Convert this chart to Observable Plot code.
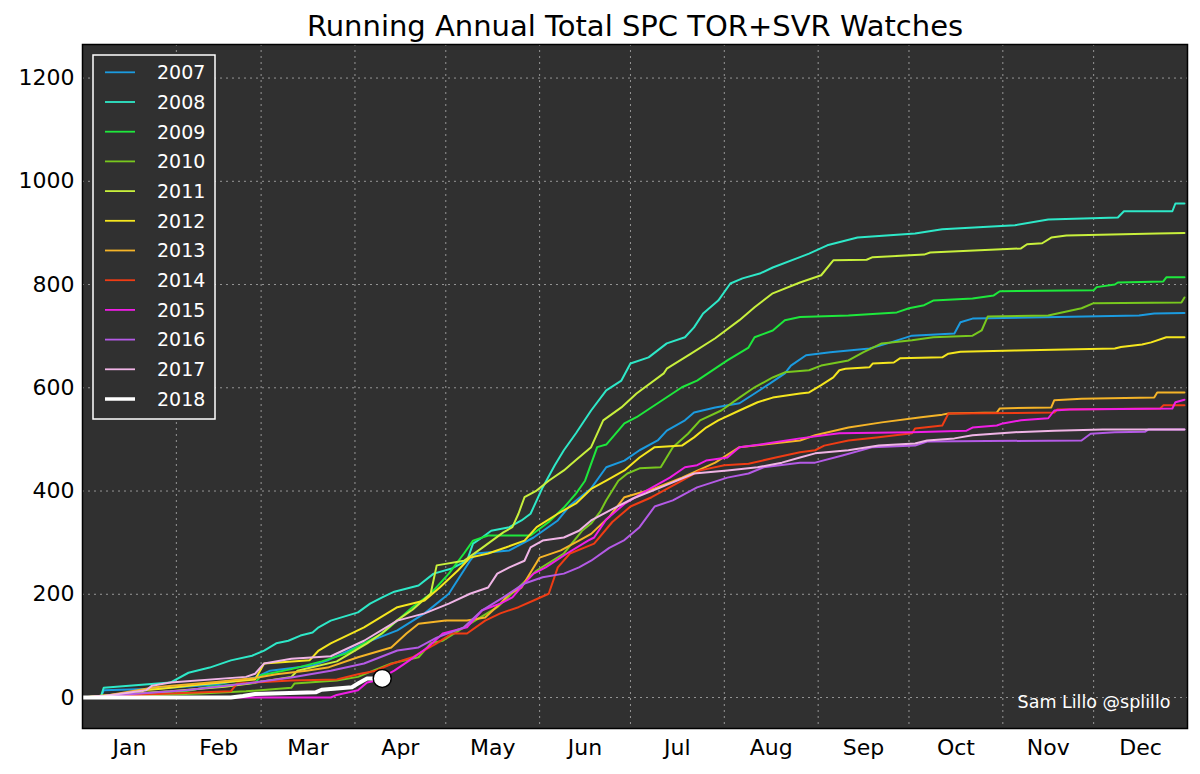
<!DOCTYPE html>
<html><head><meta charset="utf-8">
<script src="https://cdn.jsdelivr.net/npm/d3@7"></script>
<script src="https://cdn.jsdelivr.net/npm/@observablehq/plot@0.6"></script>
<style>body{margin:0;background:#fff;} #chart svg{display:block;}</style>
</head><body><div id="chart"></div>
<script>
const title = "Running Annual Total SPC TOR+SVR Watches";
const credit = "Sam Lillo @splillo";
const years = [2007,2008,2009,2010,2011,2012,2013,2014,2015,2016,2017,2018];
const colors = ["#1b9be0","#2ee8c8","#1ee83c","#78c81e","#c8f03c","#f5e61e","#f5b428","#f03c14","#f01ee6","#b45ae6","#f0b4e6","#ffffff"];
const monthLabels = ["Jan","Feb","Mar","Apr","May","Jun","Jul","Aug","Sep","Oct","Nov","Dec"];
const monthStartDays = [1,32,60,91,121,152,182,213,244,274,305,335,366];
const yTicks = [0,200,400,600,800,1000,1200];

// cumulative watch counts: [day of year, running total]
const y2007 = [[1,0],[7,0],[8,14],[25,17],[45,25],[58,39],[63,52],[77,62],[82,72],[94,105],[105,130],[114,163],[122,201],[129,265],[131,279],[142,285],[150,310],[158,343],[162,372],[169,405],[174,446],[180,459],[185,479],[191,498],[194,517],[200,537],[203,552],[210,562],[218,570],[223,589],[228,608],[233,628],[235,643],[240,663],[248,669],[261,676],[268,688],[275,701],[289,705],[291,727],[295,734],[323,737],[350,740],[355,744],[365,745]];
const y2008 = [[1,0],[7,0],[8,19],[30,29],[36,48],[43,58],[50,72],[57,81],[61,91],[65,105],[69,110],[73,120],[77,126],[79,136],[83,149],[92,165],[96,182],[100,194],[104,205],[112,217],[117,240],[123,250],[128,265],[130,298],[133,310],[136,323],[142,330],[146,343],[149,356],[153,407],[157,450],[160,479],[164,512],[169,556],[174,595],[179,614],[182,647],[188,659],[194,686],[200,698],[203,717],[206,744],[211,769],[215,802],[219,812],[225,822],[229,833],[238,853],[241,860],[247,876],[257,891],[276,899],[285,907],[309,915],[320,926],[343,930],[345,942],[361,942],[362,957],[365,957]];
const y2009 = [[1,0],[12,5],[35,12],[43,21],[58,28],[60,43],[70,55],[80,70],[88,85],[94,105],[100,124],[105,149],[110,175],[116,201],[122,240],[127,279],[130,304],[135,314],[149,314],[155,340],[160,368],[164,395],[167,420],[171,485],[174,490],[180,531],[184,543],[191,570],[199,601],[204,614],[214,653],[221,678],[223,698],[229,711],[233,731],[238,737],[254,740],[270,746],[274,754],[279,760],[282,769],[295,773],[302,779],[304,787],[335,789],[336,795],[342,800],[343,804],[358,806],[359,814],[365,814]];
const y2010 = [[1,0],[15,3],[40,8],[55,12],[70,19],[71,27],[85,33],[92,40],[97,52],[103,66],[112,78],[116,105],[120,110],[127,136],[138,175],[145,213],[151,246],[160,279],[166,323],[169,337],[172,360],[174,382],[178,420],[181,434],[185,444],[192,446],[196,485],[201,511],[205,537],[212,556],[218,581],[223,601],[229,620],[233,630],[241,634],[245,643],[254,653],[259,669],[265,686],[275,692],[282,698],[295,701],[298,711],[300,738],[320,740],[323,744],[331,754],[335,764],[364,765],[365,775]];
const y2011 = [[1,0],[10,5],[30,12],[48,21],[55,26],[70,40],[72,52],[85,70],[95,105],[100,125],[105,150],[110,170],[116,201],[118,256],[127,265],[133,290],[140,320],[143,330],[145,356],[147,388],[151,401],[155,420],[160,440],[164,460],[169,485],[173,537],[179,562],[184,589],[193,628],[194,637],[202,666],[210,696],[218,731],[223,756],[229,783],[238,804],[245,818],[249,847],[260,848],[262,853],[279,858],[281,862],[311,870],[313,878],[318,880],[321,891],[326,895],[356,899],[365,900]];
const y2012 = [[1,0],[20,0],[21,14],[27,17],[40,25],[58,35],[61,66],[76,72],[79,91],[83,105],[94,136],[105,175],[114,188],[119,213],[125,246],[129,271],[135,279],[141,291],[147,304],[151,330],[158,356],[164,376],[169,404],[174,420],[180,440],[185,465],[190,485],[199,488],[203,504],[207,523],[211,537],[218,556],[224,572],[229,581],[238,589],[241,591],[245,605],[249,620],[251,634],[253,637],[261,640],[262,647],[269,649],[271,657],[285,659],[287,666],[291,670],[309,672],[342,676],[344,679],[351,684],[354,688],[359,698],[365,698]];
const y2013 = [[1,0],[10,5],[25,20],[45,30],[58,38],[65,45],[75,52],[82,58],[92,78],[103,97],[108,124],[112,143],[121,149],[128,149],[134,155],[139,182],[142,201],[146,213],[150,252],[152,271],[159,285],[165,304],[169,317],[175,350],[180,388],[190,405],[199,426],[210,455],[218,485],[229,492],[238,498],[243,508],[254,523],[265,533],[278,543],[285,548],[287,550],[303,552],[304,560],[321,562],[322,576],[331,579],[355,581],[356,591],[365,591]];
const y2014 = [[1,0],[15,4],[30,8],[50,12],[52,27],[70,33],[85,35],[92,45],[98,52],[103,65],[110,78],[115,95],[118,105],[123,124],[128,124],[134,149],[139,163],[145,175],[150,188],[155,201],[158,252],[162,279],[167,291],[170,298],[176,340],[182,370],[189,388],[199,420],[205,440],[213,450],[221,453],[230,465],[238,475],[243,479],[246,488],[254,498],[264,504],[275,512],[276,521],[285,527],[287,550],[322,552],[323,558],[357,560],[358,566],[365,566]];
const y2015 = [[1,0],[83,0],[85,5],[92,14],[95,29],[98,33],[104,52],[109,72],[115,97],[120,124],[128,136],[133,169],[139,182],[143,194],[147,221],[150,240],[154,252],[161,279],[168,304],[170,310],[174,345],[180,375],[187,400],[195,426],[200,446],[204,450],[207,459],[214,465],[218,485],[227,492],[238,502],[251,512],[275,514],[293,517],[295,523],[303,527],[305,531],[311,537],[320,541],[322,556],[327,558],[361,560],[362,572],[365,577]];
const y2016 = [[1,0],[20,8],[35,14],[55,27],[70,39],[83,52],[94,66],[105,91],[112,97],[118,116],[127,136],[133,169],[140,194],[147,221],[153,233],[160,240],[165,252],[169,265],[175,290],[180,305],[185,330],[190,370],[196,382],[204,407],[214,426],[221,434],[226,446],[238,455],[243,455],[252,469],[262,485],[276,488],[280,496],[331,498],[334,511],[342,514],[352,515],[353,519],[365,519]];
const y2017 = [[1,0],[8,3],[22,14],[24,23],[30,29],[55,40],[58,46],[61,66],[70,75],[83,80],[94,110],[105,149],[114,163],[122,182],[129,201],[135,213],[138,240],[142,252],[147,265],[149,291],[153,304],[160,310],[165,323],[169,343],[176,365],[183,386],[192,407],[203,434],[214,440],[224,446],[232,455],[238,465],[243,473],[254,479],[264,488],[276,492],[280,498],[289,502],[295,508],[309,514],[322,517],[338,519],[365,519]];
const y2018 = [[1,0],[50,0],[54,3],[58,7],[78,10],[80,15],[90,20],[92,27],[95,37],[100,37]];

const series = [y2007,y2008,y2009,y2010,y2011,y2012,y2013,y2014,y2015,y2016,y2017,y2018];
const rows = series.flatMap((s, i) => s.map(([day, value]) => ({year: years[i], day, value})));
const pastRows = rows.filter(d => d.year !== 2018);
const curRows = rows.filter(d => d.year === 2018);
const lastPoint = curRows.slice(-1);

const monthMid = monthLabels.map((m, i) => ({label: m, day: (monthStartDays[i] + monthStartDays[i+1]) / 2}));
const gridDays = monthStartDays.slice(1, 12);

const chart = Plot.plot({
  width: 1200, height: 774,
  marginLeft: 82, marginRight: 13, marginTop: 44, marginBottom: 46,
  style: {background: "#ffffff", fontFamily: "DejaVu Sans", color: "#000"},
  x: {domain: [1, 366], axis: null},
  y: {domain: [-60, 1265], axis: null},
  color: {type: "ordinal", domain: years, range: colors},
  marks: [
    Plot.frame({fill: "#303030", stroke: null}),
    Plot.ruleX(gridDays, {x: d => d, stroke: "#b8b8b8", strokeOpacity: 0.75, strokeDasharray: "2,4", strokeWidth: 1}),
    Plot.ruleY(yTicks, {y: d => d, stroke: "#b8b8b8", strokeOpacity: 0.75, strokeDasharray: "2,4", strokeWidth: 1}),
    Plot.line(pastRows, {x: "day", y: "value", z: "year", stroke: "year", strokeWidth: 2}),
    Plot.line(curRows, {x: "day", y: "value", stroke: "year", strokeWidth: 4}),
    Plot.dot(lastPoint, {x: "day", y: "value", r: 9, fill: "white", stroke: "black", strokeWidth: 1.5}),
    Plot.frame({stroke: "#000", strokeWidth: 1.5}),
    Plot.text(yTicks, {y: d => d, text: d => String(d), frameAnchor: "left", textAnchor: "end", lineAnchor: "middle", dx: -8, fontSize: 22, fill: "#000"}),
    Plot.text(monthMid, {x: "day", text: "label", frameAnchor: "bottom", lineAnchor: "middle", dy: 19, fontSize: 22, fill: "#000"}),
    Plot.text([title], {frameAnchor: "top", lineAnchor: "middle", dy: -18, fontSize: 29, fill: "#000"}),
    Plot.text([credit], {frameAnchor: "bottom-right", textAnchor: "end", lineAnchor: "middle", dx: -17, dy: -26, fontSize: 17.5, fill: "#fff"})
  ]
});

// legend
const svg = d3.select(chart);
const lg = svg.append("g").attr("font-family", "DejaVu Sans").attr("text-anchor", "start");
lg.append("rect").attr("x", 93).attr("y", 55).attr("width", 122).attr("height", 364)
  .attr("fill", "#303030").attr("stroke", "#ffffff").attr("stroke-width", 1.5);
years.forEach((yr, i) => {
  const cy = 72.3 + i * 29.7;
  lg.append("line").attr("x1", 105).attr("x2", 135).attr("y1", cy).attr("y2", cy)
    .attr("stroke", colors[i]).attr("stroke-width", yr === 2018 ? 3.5 : 1.8);
  lg.append("text").attr("x", 157).attr("y", cy).attr("dy", "0.36em").attr("text-anchor", "start")
    .attr("fill", "#fff").attr("font-size", 19).text(String(yr));
});
document.getElementById("chart").appendChild(chart);
</script>
</body></html>
